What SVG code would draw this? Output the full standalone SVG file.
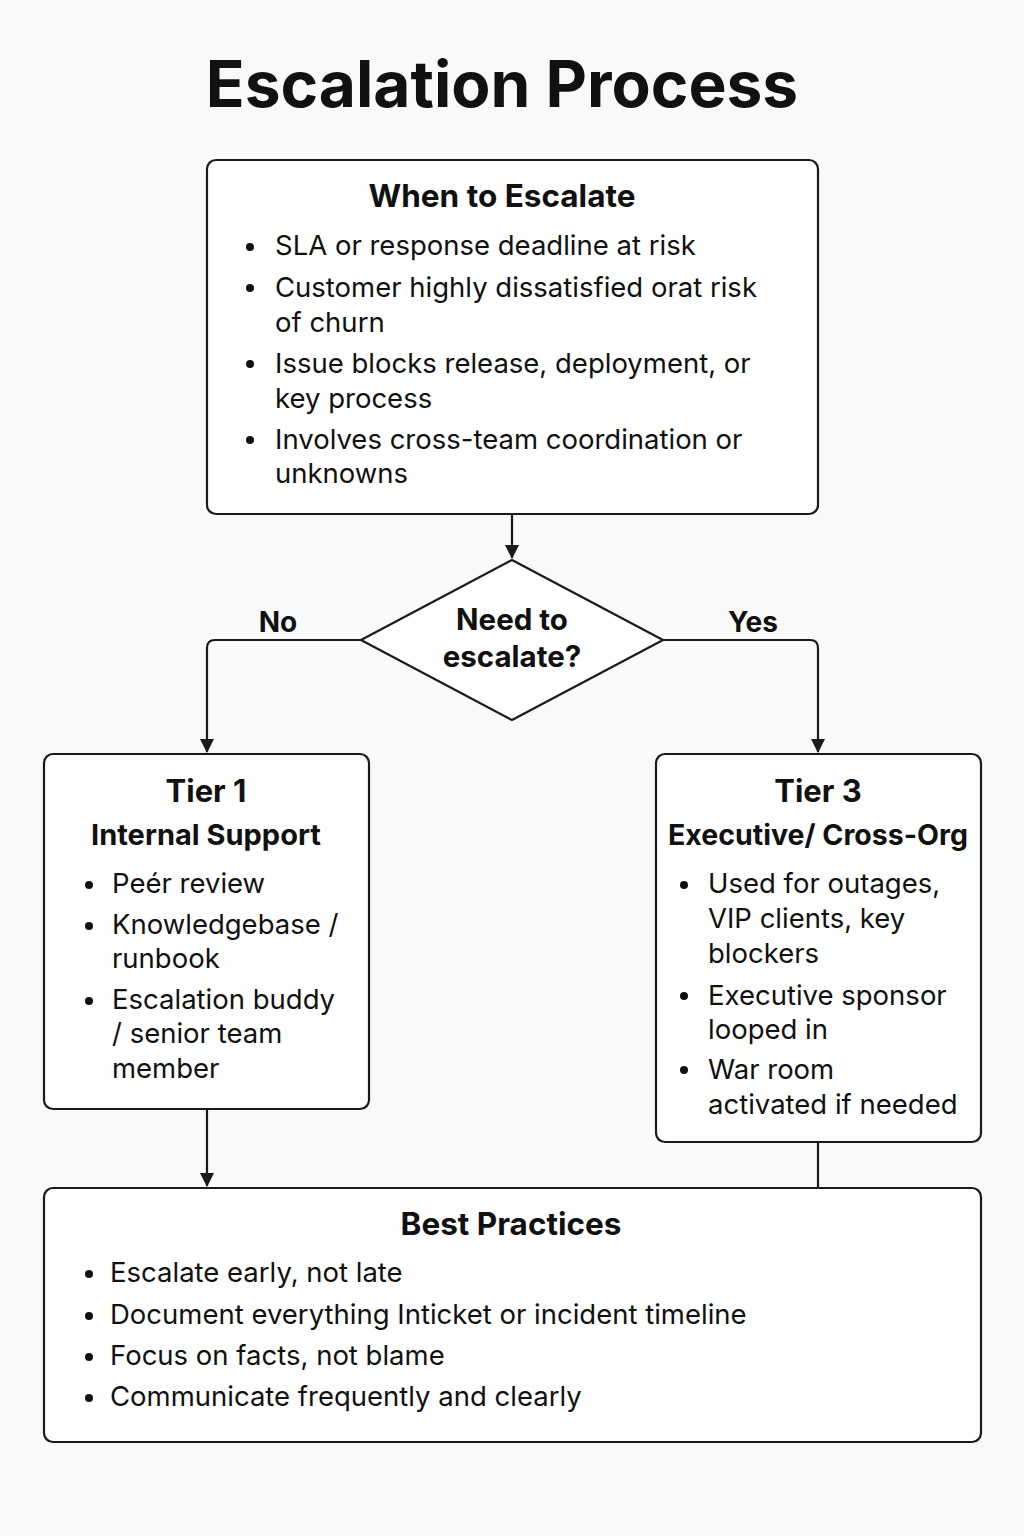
<svg xmlns="http://www.w3.org/2000/svg" width="1024" height="1536" viewBox="0 0 1024 1536">
<defs>
<marker id="arr" markerWidth="14" markerHeight="16" refX="13" refY="8" orient="auto" markerUnits="userSpaceOnUse">
<path d="M0,1 L14,8 L0,15 Z" fill="#1a1a1a"/>
</marker>
<style>
.box{fill:#ffffff;stroke:#1a1a1a;stroke-width:2.2}
.conn{fill:none;stroke:#1a1a1a;stroke-width:2.2}
.t{font-family:Inter,"Liberation Sans",sans-serif;fill:#111}
.h{font-weight:700;text-anchor:middle}
.b{font-size:27.5px}
</style>
</defs>
<rect width="1024" height="1536" fill="#f9f9f9"/>
<text class="t h" x="502" y="107" font-size="64">Escalation Process</text>
<g id="connectors">
<line class="conn" x1="512" y1="514" x2="512" y2="558" marker-end="url(#arr)"/>
<path class="conn" d="M361,640 H215 Q207,640 207,648 V752" marker-end="url(#arr)"/>
<path class="conn" d="M663,640 H810 Q818,640 818,648 V752" marker-end="url(#arr)"/>
<line class="conn" x1="207" y1="1109" x2="207" y2="1186" marker-end="url(#arr)"/>
<line class="conn" x1="818" y1="1142" x2="818" y2="1188"/>
<text class="t h" x="278" y="632" font-size="28">No</text>
<text class="t h" x="753" y="632" font-size="28">Yes</text>
</g>
<g id="when">
<rect class="box" x="207" y="160" width="611" height="354" rx="9"/>
<text class="t h" x="502" y="207" font-size="31.5">When to Escalate</text>
<g class="t b">
<circle cx="250" cy="247" r="4" fill="#111"/>
<text x="275" y="255">SLA or response deadline at risk</text>
<circle cx="250" cy="288" r="4" fill="#111"/>
<text x="275" y="297">Customer highly dissatisfied orat risk</text>
<text x="275" y="332">of churn</text>
<circle cx="250" cy="364" r="4" fill="#111"/>
<text x="275" y="373">Issue blocks release, deployment, or</text>
<text x="275" y="408">key process</text>
<circle cx="250" cy="440" r="4" fill="#111"/>
<text x="275" y="449">Involves cross-team coordination or</text>
<text x="275" y="483">unknowns</text>
</g>
</g>
<g id="decision">
<polygon class="box" points="512,560 663,640 512,720 361,640" stroke-linejoin="round"/>
<text class="t h" x="512" y="630" font-size="29.5">Need to</text>
<text class="t h" x="512" y="667" font-size="29.5">escalate?</text>
</g>
<g id="tier1">
<rect class="box" x="44" y="754" width="325" height="355" rx="9"/>
<text class="t h" x="206" y="802" font-size="31">Tier 1</text>
<text class="t h" x="206" y="845" font-size="29">Internal Support</text>
<g class="t b">
<circle cx="89" cy="885" r="4" fill="#111"/>
<text x="112" y="893">Peér review</text>
<circle cx="89" cy="926" r="4" fill="#111"/>
<text x="112" y="934">Knowledgebase /</text>
<text x="112" y="968">runbook</text>
<circle cx="89" cy="1001" r="4" fill="#111"/>
<text x="112" y="1009">Escalation buddy</text>
<text x="112" y="1043">/ senior team</text>
<text x="112" y="1078">member</text>
</g>
</g>
<g id="tier3">
<rect class="box" x="656" y="754" width="325" height="388" rx="9"/>
<text class="t h" x="818" y="802" font-size="31">Tier 3</text>
<text class="t h" x="818" y="845" font-size="28.5">Executive/ Cross-Org</text>
<g class="t b">
<circle cx="684" cy="885" r="4" fill="#111"/>
<text x="708" y="893">Used for outages,</text>
<text x="708" y="928">VIP clients, key</text>
<text x="708" y="963">blockers</text>
<circle cx="684" cy="996" r="4" fill="#111"/>
<text x="708" y="1005">Executive sponsor</text>
<text x="708" y="1039">looped in</text>
<circle cx="684" cy="1070" r="4" fill="#111"/>
<text x="708" y="1079">War room</text>
<text x="708" y="1114">activated if needed</text>
</g>
</g>
<g id="best">
<rect class="box" x="44" y="1188" width="937" height="254" rx="9"/>
<text class="t h" x="511" y="1235" font-size="31.5">Best Practices</text>
<g class="t b">
<circle cx="89" cy="1274" r="4" fill="#111"/>
<text x="110" y="1282">Escalate early, not late</text>
<circle cx="89" cy="1316" r="4" fill="#111"/>
<text x="110" y="1324">Document everything Inticket or incident timeline</text>
<circle cx="89" cy="1357" r="4" fill="#111"/>
<text x="110" y="1365">Focus on facts, not blame</text>
<circle cx="89" cy="1398" r="4" fill="#111"/>
<text x="110" y="1406">Communicate frequently and clearly</text>
</g>
</g>
</svg>
